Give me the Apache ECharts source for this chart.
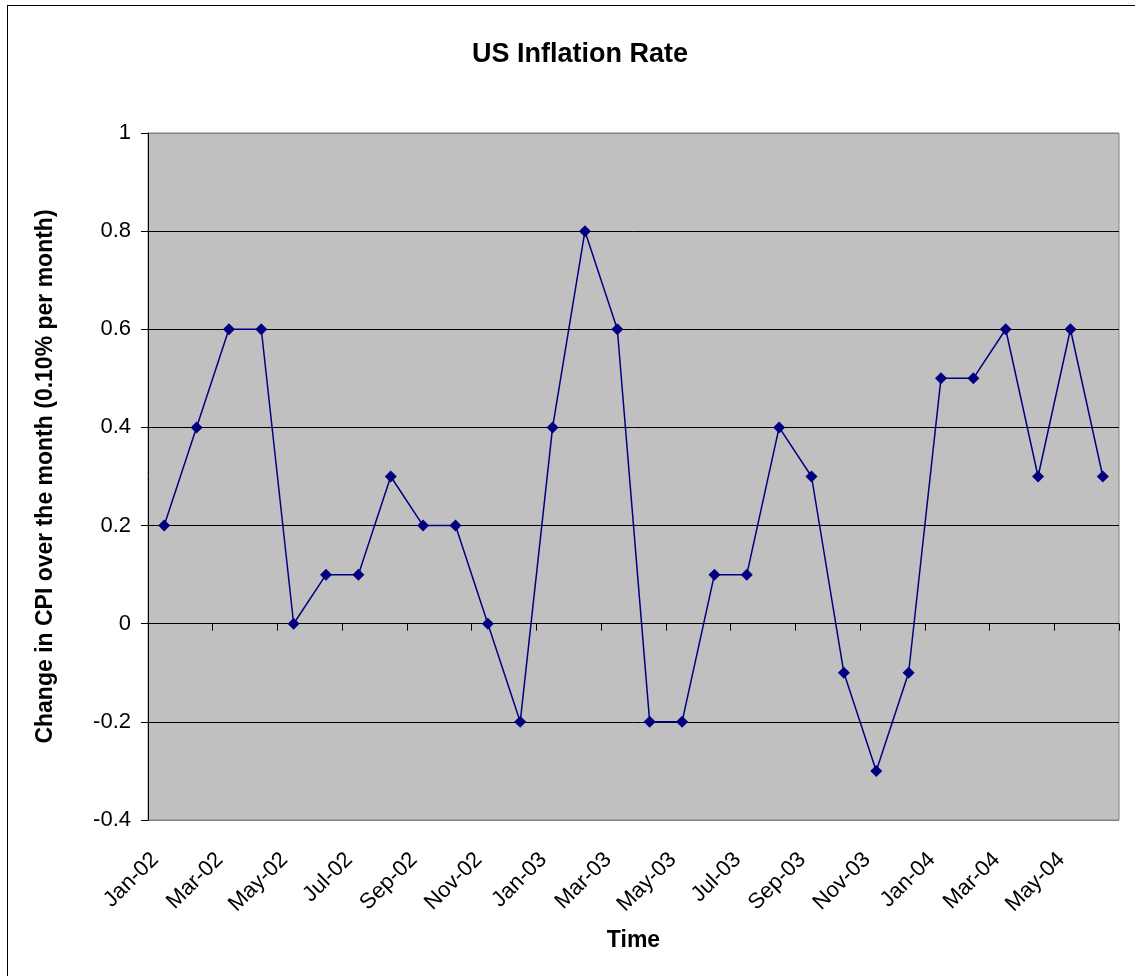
<!DOCTYPE html>
<html lang="en">
<head>
    <meta charset="UTF-8">
    <title>US Inflation Rate</title>
    <script src="https://cdn.jsdelivr.net/npm/echarts@6.0.0/dist/echarts.min.js"></script>
    <style>
        body { margin: 0; background: #fff; font-family: "Liberation Sans", Arial, sans-serif; }
        #frame {
            position: absolute; left: 7px; top: 5px; width: 1140px; height: 985px;
            border: 1px solid #000; box-sizing: border-box;
        }
        #chart { position: absolute; left: 0; top: 0; width: 1135px; height: 976px; }
    </style>
</head>
<body>
    <div id="frame"></div>
    <div id="chart"></div>

    <script>
        // Meses (Jan-02 .. Jun-04)
        const months = [
            "Jan-02", "Feb-02", "Mar-02", "Apr-02", "May-02", "Jun-02",
            "Jul-02", "Aug-02", "Sep-02", "Oct-02", "Nov-02", "Dec-02",
            "Jan-03", "Feb-03", "Mar-03", "Apr-03", "May-03", "Jun-03",
            "Jul-03", "Aug-03", "Sep-03", "Oct-03", "Nov-03", "Dec-03",
            "Jan-04", "Feb-04", "Mar-04", "Apr-04", "May-04", "Jun-04"
        ];

        // Cambio mensual del CPI
        const cpiChange = [
            0.2, 0.4, 0.6, 0.6, 0.0, 0.1, 0.1, 0.3, 0.2, 0.2, 0.0, -0.2,
            0.4, 0.8, 0.6, -0.2, -0.2, 0.1, 0.1, 0.4, 0.3, -0.1, -0.3, -0.1,
            0.5, 0.5, 0.6, 0.3, 0.6, 0.3
        ];

        const font = "Liberation Sans";
        let chart = echarts.init(document.getElementById("chart"));

        chart.setOption({
            animation: false,
            title: {
                text: "US Inflation Rate",
                left: 575, top: 36, textAlign: "center",
                textStyle: { fontFamily: font, fontSize: 27, fontWeight: "bold", color: "#000" }
            },
            grid: {
                left: 148, top: 133, width: 971, height: 687,
                show: true, backgroundColor: "#c0c0c0", borderColor: "#808080", borderWidth: 1
            },
            xAxis: [
                {
                    // eje en y=0 con marcas
                    type: "category", data: months, boundaryGap: true,
                    axisLine: { onZero: true, lineStyle: { color: "#000", width: 1 } },
                    axisTick: { show: true, interval: 1, inside: false, length: 7, lineStyle: { color: "#000" } },
                    axisLabel: { show: false },
                    splitLine: { show: false }
                },
                {
                    // etiquetas abajo
                    type: "category", data: months, boundaryGap: true, position: "bottom",
                    axisLine: { show: false, onZero: false },
                    axisTick: { show: false },
                    axisLabel: {
                        interval: 1, rotate: 45, margin: 27, padding: [0, 13, 0, 0],
                        fontFamily: font, fontSize: 22, color: "#000"
                    },
                    name: "Time", nameLocation: "middle", nameGap: 109,
                    nameTextStyle: { fontFamily: font, fontSize: 23, fontWeight: "bold", color: "#000" }
                }
            ],
            yAxis: {
                type: "value", min: -0.4, max: 1, interval: 0.2,
                axisLine: { show: true, lineStyle: { color: "#000" } },
                axisTick: { show: true, length: 7, lineStyle: { color: "#000" } },
                axisLabel: { fontFamily: font, fontSize: 22, color: "#000", margin: 17 },
                splitLine: {
                    show: true,
                    lineStyle: { color: ["#808080", "#000", "#000", "#000", "#000", "#000", "#000", "#808080"], width: 1 }
                },
                name: "Change in CPI over the month (0.10% per month)",
                nameLocation: "middle", nameGap: 91,
                nameTextStyle: { fontFamily: font, fontSize: 23, fontWeight: "bold", color: "#000" }
            },
            series: [{
                type: "line", data: cpiChange, xAxisIndex: 0,
                symbol: "diamond", symbolSize: 12,
                lineStyle: { color: "#000080", width: 1.5 },
                itemStyle: { color: "#000080" }
            }]
        });
    </script>
</body>
</html>
